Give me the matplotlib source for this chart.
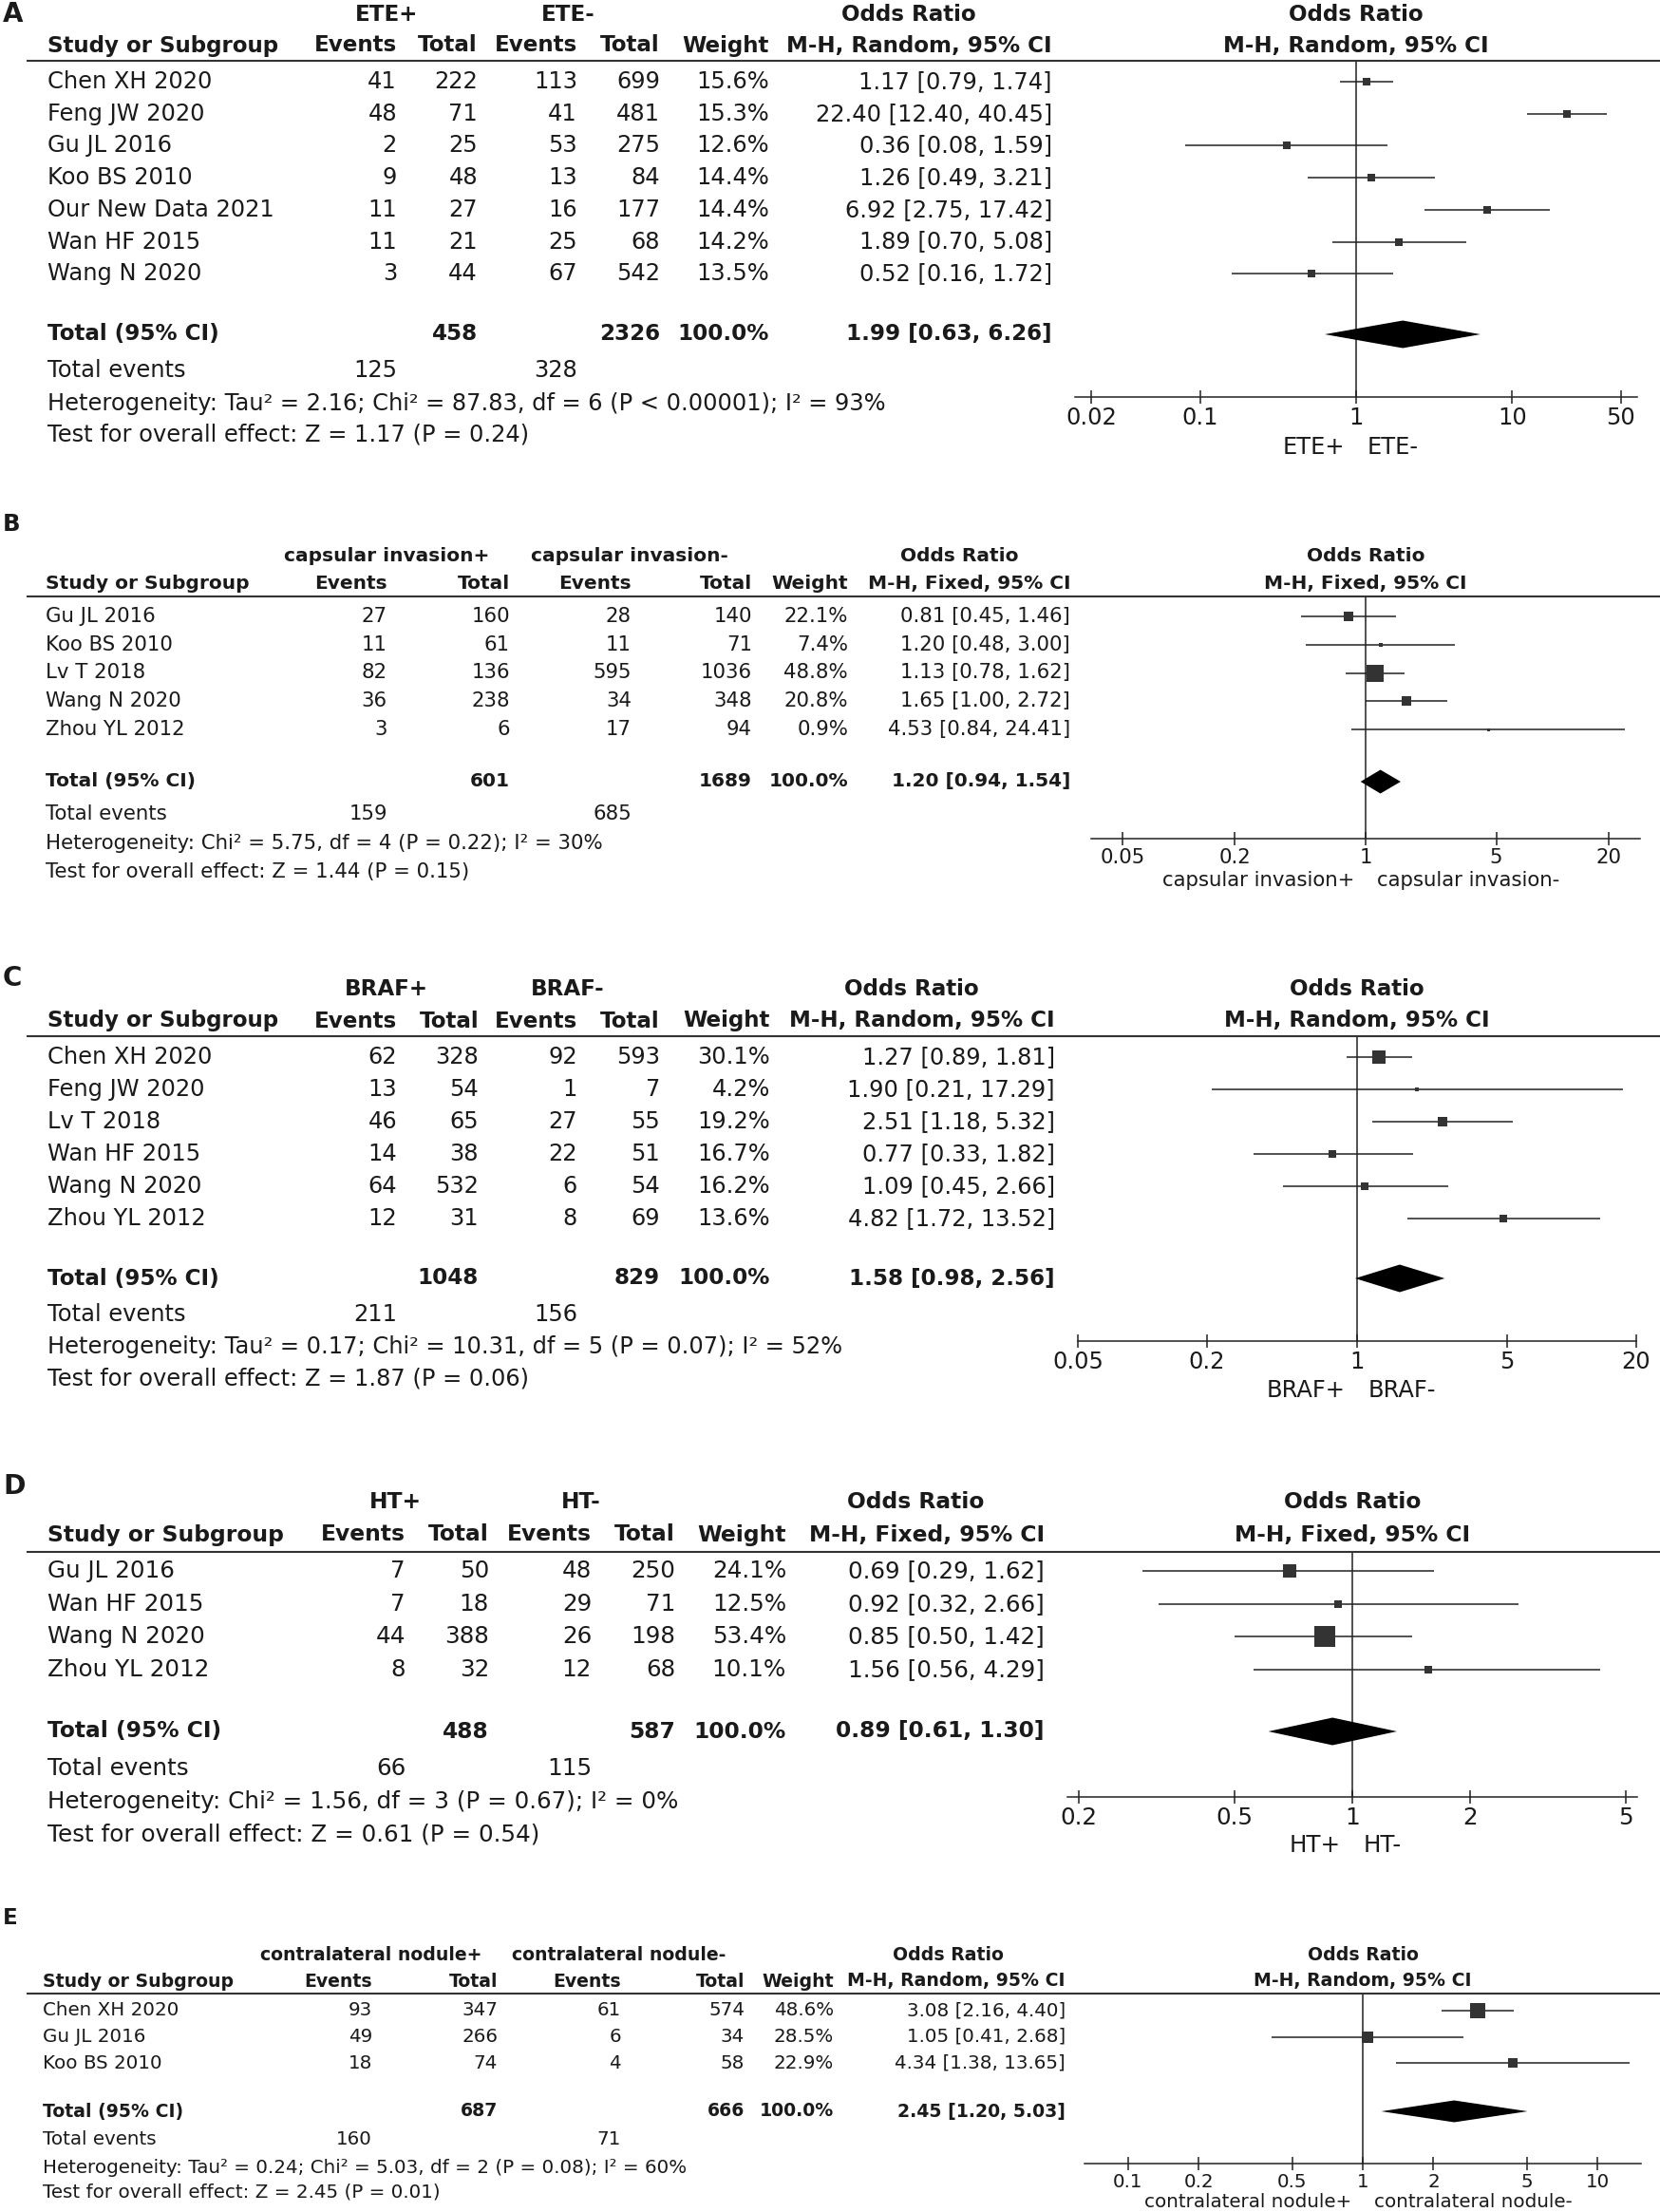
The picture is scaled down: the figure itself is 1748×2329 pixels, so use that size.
import matplotlib
matplotlib.use("Agg")
import matplotlib.pyplot as plt
import numpy as np

plt.rcParams['font.family'] = ['DejaVu Sans']

# ---------------- DATA ----------------
# Panel A : ETE
A_groups = ["ETE+", "ETE-"]
A_method = "M-H, Random, 95% CI"
A_studies = ["Chen XH 2020", "Feng JW 2020", "Gu JL 2016", "Koo BS 2010",
             "Our New Data 2021", "Wan HF 2015", "Wang N 2020"]
A_ev1 = [41, 48, 2, 9, 11, 11, 3]
A_tot1 = [222, 71, 25, 48, 27, 21, 44]
A_ev2 = [113, 41, 53, 13, 16, 25, 67]
A_tot2 = [699, 481, 275, 84, 177, 68, 542]
A_weight = [15.6, 15.3, 12.6, 14.4, 14.4, 14.2, 13.5]
A_or = [1.17, 22.40, 0.36, 1.26, 6.92, 1.89, 0.52]
A_lo = [0.79, 12.40, 0.08, 0.49, 2.75, 0.70, 0.16]
A_hi = [1.74, 40.45, 1.59, 3.21, 17.42, 5.08, 1.72]
A_totals = [458, 2326]
A_tot_events = [125, 328]
A_pooled = [1.99, 0.63, 6.26]
A_het = "Heterogeneity: Tau\u00b2 = 2.16; Chi\u00b2 = 87.83, df = 6 (P < 0.00001); I\u00b2 = 93%"
A_test = "Test for overall effect: Z = 1.17 (P = 0.24)"
A_ticks = [0.02, 0.1, 1, 10, 50]
A_ticklabels = ["0.02", "0.1", "1", "10", "50"]

# Panel B : capsular invasion
B_groups = ["capsular invasion+", "capsular invasion-"]
B_method = "M-H, Fixed, 95% CI"
B_studies = ["Gu JL 2016", "Koo BS 2010", "Lv T 2018", "Wang N 2020", "Zhou YL 2012"]
B_ev1 = [27, 11, 82, 36, 3]
B_tot1 = [160, 61, 136, 238, 6]
B_ev2 = [28, 11, 595, 34, 17]
B_tot2 = [140, 71, 1036, 348, 94]
B_weight = [22.1, 7.4, 48.8, 20.8, 0.9]
B_or = [0.81, 1.20, 1.13, 1.65, 4.53]
B_lo = [0.45, 0.48, 0.78, 1.00, 0.84]
B_hi = [1.46, 3.00, 1.62, 2.72, 24.41]
B_totals = [601, 1689]
B_tot_events = [159, 685]
B_pooled = [1.20, 0.94, 1.54]
B_het = "Heterogeneity: Chi\u00b2 = 5.75, df = 4 (P = 0.22); I\u00b2 = 30%"
B_test = "Test for overall effect: Z = 1.44 (P = 0.15)"
B_ticks = [0.05, 0.2, 1, 5, 20]
B_ticklabels = ["0.05", "0.2", "1", "5", "20"]

# Panel C : BRAF
C_groups = ["BRAF+", "BRAF-"]
C_method = "M-H, Random, 95% CI"
C_studies = ["Chen XH 2020", "Feng JW 2020", "Lv T 2018", "Wan HF 2015",
             "Wang N 2020", "Zhou YL 2012"]
C_ev1 = [62, 13, 46, 14, 64, 12]
C_tot1 = [328, 54, 65, 38, 532, 31]
C_ev2 = [92, 1, 27, 22, 6, 8]
C_tot2 = [593, 7, 55, 51, 54, 69]
C_weight = [30.1, 4.2, 19.2, 16.7, 16.2, 13.6]
C_or = [1.27, 1.90, 2.51, 0.77, 1.09, 4.82]
C_lo = [0.89, 0.21, 1.18, 0.33, 0.45, 1.72]
C_hi = [1.81, 17.29, 5.32, 1.82, 2.66, 13.52]
C_totals = [1048, 829]
C_tot_events = [211, 156]
C_pooled = [1.58, 0.98, 2.56]
C_het = "Heterogeneity: Tau\u00b2 = 0.17; Chi\u00b2 = 10.31, df = 5 (P = 0.07); I\u00b2 = 52%"
C_test = "Test for overall effect: Z = 1.87 (P = 0.06)"
C_ticks = [0.05, 0.2, 1, 5, 20]
C_ticklabels = ["0.05", "0.2", "1", "5", "20"]

# Panel D : HT
D_groups = ["HT+", "HT-"]
D_method = "M-H, Fixed, 95% CI"
D_studies = ["Gu JL 2016", "Wan HF 2015", "Wang N 2020", "Zhou YL 2012"]
D_ev1 = [7, 7, 44, 8]
D_tot1 = [50, 18, 388, 32]
D_ev2 = [48, 29, 26, 12]
D_tot2 = [250, 71, 198, 68]
D_weight = [24.1, 12.5, 53.4, 10.1]
D_or = [0.69, 0.92, 0.85, 1.56]
D_lo = [0.29, 0.32, 0.50, 0.56]
D_hi = [1.62, 2.66, 1.42, 4.29]
D_totals = [488, 587]
D_tot_events = [66, 115]
D_pooled = [0.89, 0.61, 1.30]
D_het = "Heterogeneity: Chi\u00b2 = 1.56, df = 3 (P = 0.67); I\u00b2 = 0%"
D_test = "Test for overall effect: Z = 0.61 (P = 0.54)"
D_ticks = [0.2, 0.5, 1, 2, 5]
D_ticklabels = ["0.2", "0.5", "1", "2", "5"]

# Panel E : contralateral nodule
E_groups = ["contralateral nodule+", "contralateral nodule-"]
E_method = "M-H, Random, 95% CI"
E_studies = ["Chen XH 2020", "Gu JL 2016", "Koo BS 2010"]
E_ev1 = [93, 49, 18]
E_tot1 = [347, 266, 74]
E_ev2 = [61, 6, 4]
E_tot2 = [574, 34, 58]
E_weight = [48.6, 28.5, 22.9]
E_or = [3.08, 1.05, 4.34]
E_lo = [2.16, 0.41, 1.38]
E_hi = [4.40, 2.68, 13.65]
E_totals = [687, 666]
E_tot_events = [160, 71]
E_pooled = [2.45, 1.20, 5.03]
E_het = "Heterogeneity: Tau\u00b2 = 0.24; Chi\u00b2 = 5.03, df = 2 (P = 0.08); I\u00b2 = 60%"
E_test = "Test for overall effect: Z = 2.45 (P = 0.01)"
E_ticks = [0.1, 0.2, 0.5, 1, 2, 5, 10]
E_ticklabels = ["0.1", "0.2", "0.5", "1", "2", "5", "10"]

panel_letters = ["A", "B", "C", "D", "E"]

# ---------------- LAYOUT (pixels, from top-left) ----------------
W, H = 1748, 2329
layouts = [
    dict(letter_y=15, h1=15, h2=48, rule=64, row0=86, step=33.7, total=352, events=390,
         het=425, test=458, cols=[418, 503, 608, 695, 810, 1108], grp=[407, 598, 957],
         name_x=50, x1=1428, half=296, R=63.5, axis=418, cap=471, fs=17.4, sq=1.24, dia=14.5),
    dict(letter_y=552, h1=585, h2=614, rule=628, row0=649, step=29.75, total=823, events=857,
         het=888, test=918, cols=[408, 537, 665, 792, 893, 1127], grp=[407, 663, 1010],
         name_x=48, x1=1438, half=289, R=29.4, axis=883, cap=927, fs=15.3, sq=1.15, dia=12.5),
    dict(letter_y=1030, h1=1042, h2=1075, rule=1091, row0=1113, step=34.0, total=1346, events=1384,
         het=1418, test=1452, cols=[418, 504, 608, 695, 811, 1111], grp=[407, 598, 960],
         name_x=50, x1=1429, half=294, R=20.0, axis=1412, cap=1464, fs=17.4, sq=1.2, dia=14.5),
    dict(letter_y=1565, h1=1582, h2=1616, rule=1634, row0=1654, step=34.7, total=1823, events=1862,
         het=1897, test=1931, cols=[427, 515, 623, 711, 828, 1100], grp=[416, 612, 964],
         name_x=50, x1=1424, half=300, R=5.35, axis=1892, cap=1943, fs=17.7, sq=1.42, dia=14.5),
    dict(letter_y=2020, h1=2058, h2=2086, rule=2099, row0=2117, step=27.5, total=2223, events=2253,
         het=2282, test=2308, cols=[392, 524, 654, 784, 878, 1122], grp=[391, 652, 998],
         name_x=45, x1=1435, half=293, R=15.3, axis=2278, cap=2319, fs=14.3, sq=1.09, dia=11.5),
]

panels = [
    (A_groups, A_method, A_studies, A_ev1, A_tot1, A_ev2, A_tot2, A_weight, A_or, A_lo, A_hi,
     A_totals, A_tot_events, A_pooled, A_het, A_test, A_ticks, A_ticklabels),
    (B_groups, B_method, B_studies, B_ev1, B_tot1, B_ev2, B_tot2, B_weight, B_or, B_lo, B_hi,
     B_totals, B_tot_events, B_pooled, B_het, B_test, B_ticks, B_ticklabels),
    (C_groups, C_method, C_studies, C_ev1, C_tot1, C_ev2, C_tot2, C_weight, C_or, C_lo, C_hi,
     C_totals, C_tot_events, C_pooled, C_het, C_test, C_ticks, C_ticklabels),
    (D_groups, D_method, D_studies, D_ev1, D_tot1, D_ev2, D_tot2, D_weight, D_or, D_lo, D_hi,
     D_totals, D_tot_events, D_pooled, D_het, D_test, D_ticks, D_ticklabels),
    (E_groups, E_method, E_studies, E_ev1, E_tot1, E_ev2, E_tot2, E_weight, E_or, E_lo, E_hi,
     E_totals, E_tot_events, E_pooled, E_het, E_test, E_ticks, E_ticklabels),
]

fig = plt.figure(figsize=(W / 100, H / 100), dpi=100)
fig.patch.set_facecolor("white")

TXT = "#1a1a1a"
LINE = "#222222"
SQ = "#333333"


def fx(px):
    return px / W


def fy(py):
    return 1 - py / H


def put(x, y, s, fs, ha="left", bold=False):
    fig.text(fx(x), fy(y), s, ha=ha, va="center", fontsize=fs, color=TXT,
             fontweight="bold" if bold else "normal")


for letter, lay, pdata in zip(panel_letters, layouts, panels):
    (groups, method, studies, ev1, tot1, ev2, tot2, weight, orr, lo, hi,
     totals, tot_events, pooled, het, test, ticks, ticklabels) = pdata
    fs = lay["fs"]
    fsb = fs * 0.95
    cols = lay["cols"]

    # panel letter
    put(3, lay["letter_y"], letter, fs * 1.15, bold=True)

    # header row 1
    put(lay["grp"][0], lay["h1"], groups[0], fsb, ha="center", bold=True)
    put(lay["grp"][1], lay["h1"], groups[1], fsb, ha="center", bold=True)
    put(lay["grp"][2], lay["h1"], "Odds Ratio", fsb, ha="center", bold=True)
    put(lay["x1"], lay["h1"], "Odds Ratio", fsb, ha="center", bold=True)
    # header row 2
    put(lay["name_x"], lay["h2"], "Study or Subgroup", fsb, bold=True)
    for c, lab in zip(cols, ["Events", "Total", "Events", "Total", "Weight", method]):
        put(c, lay["h2"], lab, fsb, ha="right", bold=True)
    put(lay["x1"], lay["h2"], method, fsb, ha="center", bold=True)

    # header rule
    fig.add_artist(plt.Line2D([fx(29), fx(W)], [fy(lay["rule"]), fy(lay["rule"])],
                              color="#333333", lw=1.5))

    # study rows
    rows_y = [lay["row0"] + i * lay["step"] for i in range(len(studies))]
    for y, name, a, b, c, d, w, o, l, h in zip(rows_y, studies, ev1, tot1, ev2, tot2,
                                               weight, orr, lo, hi):
        put(lay["name_x"], y, name, fs)
        for col, val in zip(cols[:4], [a, b, c, d]):
            put(col, y, str(val), fs, ha="right")
        put(cols[4], y, f"{w:.1f}%", fs, ha="right")
        put(cols[5], y, f"{o:.2f} [{l:.2f}, {h:.2f}]", fs, ha="right")

    # total row
    put(lay["name_x"], lay["total"], "Total (95% CI)", fsb, bold=True)
    put(cols[1], lay["total"], str(totals[0]), fsb, ha="right", bold=True)
    put(cols[3], lay["total"], str(totals[1]), fsb, ha="right", bold=True)
    put(cols[4], lay["total"], "100.0%", fsb, ha="right", bold=True)
    put(cols[5], lay["total"], f"{pooled[0]:.2f} [{pooled[1]:.2f}, {pooled[2]:.2f}]", fsb,
        ha="right", bold=True)
    put(lay["name_x"], lay["events"], "Total events", fs)
    put(cols[0], lay["events"], str(tot_events[0]), fs, ha="right")
    put(cols[2], lay["events"], str(tot_events[1]), fs, ha="right")
    put(lay["name_x"], lay["het"], het, fs)
    put(lay["name_x"], lay["test"], test, fs)

    # forest axes
    left = lay["x1"] - lay["half"]
    ax = fig.add_axes([fx(left), fy(lay["axis"]), (2 * lay["half"]) / W,
                       (lay["axis"] - lay["rule"]) / H])
    ax.set_xscale("log")
    ax.set_xlim(1 / lay["R"], lay["R"])
    ax.set_ylim(lay["axis"], lay["rule"])
    ax.patch.set_alpha(0)
    for s in ["top", "left", "right"]:
        ax.spines[s].set_visible(False)
    ax.spines["bottom"].set_color(LINE)
    ax.spines["bottom"].set_linewidth(1.1)
    ax.set_yticks([])
    ax.set_xticks(ticks)
    ax.set_xticklabels(ticklabels)
    ax.minorticks_off()
    ax.tick_params(axis="x", direction="inout", length=10, width=1.1, color=LINE,
                   labelsize=fs, labelcolor=TXT, pad=2.5)
    ax.axvline(1, color=LINE, lw=1.1, zorder=1)

    for y, o, l, h, w in zip(rows_y, orr, lo, hi, weight):
        ax.plot([l, h], [y, y], color=LINE, lw=1.1, solid_capstyle="butt", zorder=2)
        side_px = max(3.0, lay["sq"] * w ** 0.7)
        ax.plot([o], [y], marker="s", markersize=side_px * 0.72, color=SQ,
                markeredgewidth=0, linestyle="none", zorder=3)

    ty = lay["total"]
    dh = lay["dia"]
    ax.fill([pooled[1], pooled[0], pooled[2], pooled[0]], [ty, ty - dh, ty, ty + dh],
            color="black", lw=0, zorder=3)

    ax.annotate(groups[0], xy=(1, lay["cap"]), xycoords="data", xytext=(-12, 0),
                textcoords="offset pixels", ha="right", va="center", fontsize=fs,
                color=TXT, annotation_clip=False)
    ax.annotate(groups[1], xy=(1, lay["cap"]), xycoords="data", xytext=(12, 0),
                textcoords="offset pixels", ha="left", va="center", fontsize=fs,
                color=TXT, annotation_clip=False)

fig.savefig("out.png", dpi=100, facecolor="white")
